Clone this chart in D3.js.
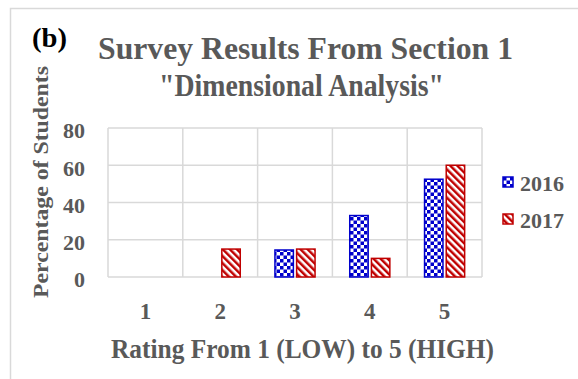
<!DOCTYPE html>
<html><head><meta charset="utf-8">
<script src="https://cdn.jsdelivr.net/npm/d3@7"></script>
<style>
html,body{margin:0;padding:0;background:#fff;}
svg text{font-family:"Liberation Serif","Times New Roman",serif;font-weight:bold;}
</style></head>
<body>
<svg id="chart" width="578" height="379"></svg>
<script>
const categories = ["1","2","3","4","5"];
const seriesNames = ["2016","2017"];
const values2016 = [0, 0, 14.5, 33, 52.5];
const values2017 = [0, 15, 15, 10, 60];
const yTicks = [0, 20, 40, 60, 80];

const svg = d3.select("#chart");
const gray = "#595959";
const grid = "#d9d9d9";
const blue = "#0000cc";
const red = "#c00000";

const defs = svg.append("defs");
const pb = defs.append("pattern").attr("id","checker").attr("patternUnits","userSpaceOnUse")
  .attr("width",7).attr("height",7);
pb.append("rect").attr("width",7).attr("height",7).attr("fill","#fff");
pb.append("rect").attr("x",0).attr("y",0).attr("width",3.5).attr("height",3.5).attr("fill",blue);
pb.append("rect").attr("x",3.5).attr("y",3.5).attr("width",3.5).attr("height",3.5).attr("fill",blue);
const pr = defs.append("pattern").attr("id","stripe").attr("patternUnits","userSpaceOnUse")
  .attr("width",5).attr("height",5).attr("patternTransform","rotate(-45)");
pr.append("rect").attr("width",5).attr("height",5).attr("fill","#fff");
pr.append("rect").attr("x",0).attr("y",0).attr("width",2.5).attr("height",5).attr("fill",red);

// outer frame
svg.append("path").attr("d","M10.5,379 L10.5,8.5 L578,8.5").attr("fill","none").attr("stroke",grid).attr("stroke-width",1.5);

const x = d3.scaleBand().domain(categories).range([108,482]).padding(0);
const x1 = d3.scaleBand().domain(seriesNames).range([0,x.bandwidth()]).paddingInner(0.15).paddingOuter(0.8);
const y = d3.scaleLinear().domain([0,80]).range([277,128]);

// gridlines
svg.append("g").selectAll("line").data(yTicks).join("line")
  .attr("x1",108).attr("x2",482).attr("y1",d=>y(d)).attr("y2",d=>y(d))
  .attr("stroke",grid).attr("stroke-width",1.5);
const vlines = categories.map(c=>x(c)).concat([x(categories[4])+x.bandwidth()]);
svg.append("g").selectAll("line").data(vlines).join("line")
  .attr("x1",d=>d).attr("x2",d=>d).attr("y1",y(0)).attr("y2",y(80))
  .attr("stroke",grid).attr("stroke-width",1.5);

// bars
const rows = [];
categories.forEach((c,i)=>{
  rows.push({cat:c, s:"2016", v:values2016[i]});
  rows.push({cat:c, s:"2017", v:values2017[i]});
});
svg.append("g").selectAll("rect").data(rows.filter(d=>d.v>0)).join("rect")
  .attr("x",d=>x(d.cat)+x1(d.s))
  .attr("width",x1.bandwidth())
  .attr("y",d=>y(d.v))
  .attr("height",d=>y(0)-y(d.v))
  .attr("fill",d=>d.s==="2016"?"url(#checker)":"url(#stripe)")
  .attr("stroke",d=>d.s==="2016"?blue:red)
  .attr("stroke-width",1.5);

// y axis
const ya = svg.append("g").attr("transform","translate(108,0)")
  .call(d3.axisLeft(y).tickValues(yTicks).tickSize(0).tickPadding(23));
ya.select(".domain").remove();
ya.selectAll("text").attr("fill",gray).style("font-size","22px")
  .style("font-family","'Liberation Serif',serif").style("font-weight","bold").attr("dy","0.45em");

// x axis
const xa = svg.append("g").attr("transform","translate(0,"+y(0)+")")
  .call(d3.axisBottom(x).tickSize(0).tickPadding(26));
xa.select(".domain").remove();
xa.selectAll("text").attr("fill",gray).style("font-size","23px")
  .style("font-family","'Liberation Serif',serif").style("font-weight","bold");

// titles
svg.append("text").attr("x",32).attr("y",47).attr("fill","#000").style("font-size","27px")
  .attr("textLength",35).attr("lengthAdjust","spacingAndGlyphs").text("(b)");
svg.append("text").attr("x",98).attr("y",59).attr("fill",gray)
  .style("font-size","31px").attr("textLength",415).attr("lengthAdjust","spacingAndGlyphs")
  .text("Survey Results From Section 1");
svg.append("text").attr("x",159).attr("y",96).attr("fill",gray)
  .style("font-size","31px").attr("textLength",285).attr("lengthAdjust","spacingAndGlyphs")
  .text("\"Dimensional Analysis\"");
svg.append("text").attr("transform","translate(48,182) rotate(-90)").attr("text-anchor","middle")
  .attr("fill",gray).style("font-size","21.5px").attr("textLength",232).attr("lengthAdjust","spacingAndGlyphs")
  .text("Percentage of Students");
svg.append("text").attr("x",111).attr("y",358).attr("fill",gray)
  .style("font-size","26.5px").attr("textLength",383).attr("lengthAdjust","spacingAndGlyphs")
  .text("Rating From 1 (LOW) to 5 (HIGH)");

// legend
const lg = svg.append("g").selectAll("g").data(seriesNames).join("g")
  .attr("transform",(d,i)=>"translate(503,"+(177+i*37)+")");
lg.append("rect").attr("width",10).attr("height",10)
  .attr("fill",d=>d==="2016"?"url(#checker)":"url(#stripe)")
  .attr("stroke",d=>d==="2016"?blue:red).attr("stroke-width",1.5);
lg.append("text").attr("x",17).attr("y",14).attr("fill",gray).style("font-size","22px").text(d=>d);
</script>
</body></html>
